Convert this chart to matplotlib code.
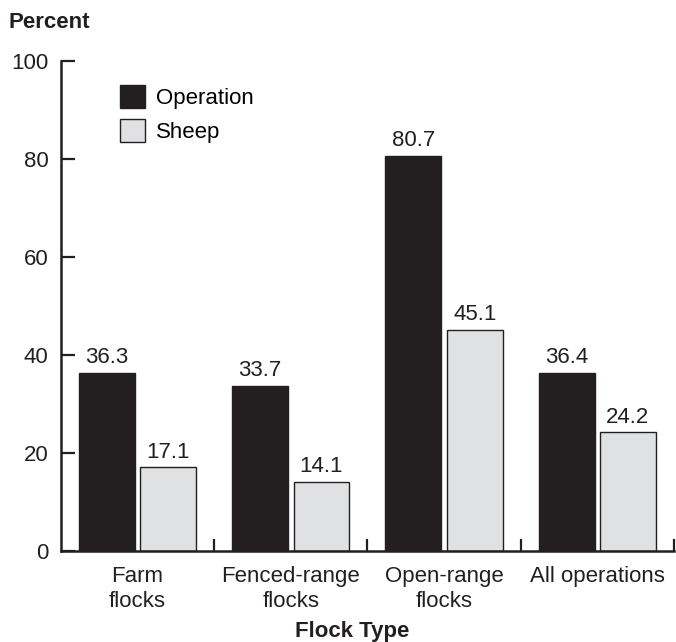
import matplotlib
matplotlib.use("Agg")
import matplotlib.pyplot as plt
import numpy as np

categories = ["Farm\nflocks", "Fenced-range\nflocks", "Open-range\nflocks", "All operations"]
operation = [36.3, 33.7, 80.7, 36.4]
sheep = [17.1, 14.1, 45.1, 24.2]
yticks = [0, 20, 40, 60, 80, 100]

plt.rcParams['font.family'] = ['Liberation Sans', 'DejaVu Sans']
FS = 16

fig = plt.figure(figsize=(6.76, 6.42), dpi=100)
ax = fig.add_axes([0.0902, 0.1417, 0.9068, 0.7633])

x = np.arange(len(categories))
w = 0.365
off = 0.2
dark = "#231f20"
light = "#e0e1e2"
ax.bar(x - off, operation, w, color=dark, edgecolor=dark, linewidth=1, label="Operation")
ax.bar(x + off, sheep, w, color=light, edgecolor=dark, linewidth=1, label="Sheep")

for xi, v in zip(x - off, operation):
    ax.annotate(f"{v:.1f}", (xi, v), xytext=(0, 7), textcoords="offset points",
                ha="center", va="baseline", fontsize=FS, color=dark)
for xi, v in zip(x + off, sheep):
    ax.annotate(f"{v:.1f}", (xi, v), xytext=(0, 7), textcoords="offset points",
                ha="center", va="baseline", fontsize=FS, color=dark)

ax.set_xlim(-0.5, 3.5)
ax.set_ylim(0, 100)
ax.set_yticks(yticks)
ax.set_yticklabels([str(t) for t in yticks], fontsize=FS, color=dark)
ax.tick_params(axis='y', direction='in', length=10, width=1.6, color=dark, pad=9)

ax.set_xticks(x)
ax.set_xticklabels(categories, fontsize=FS, color=dark, linespacing=1.25)
ax.tick_params(axis='x', which='major', length=0, pad=11)
ax.set_xticks([0.5, 1.5, 2.5, 3.5], minor=True)
ax.tick_params(axis='x', which='minor', direction='in', length=9, width=1.6, color=dark)

for s in ['top', 'right']:
    ax.spines[s].set_visible(False)
for s in ['left', 'bottom']:
    ax.spines[s].set_linewidth(1.8)
    ax.spines[s].set_color(dark)

fig.text(352 / 676, 1 - 632 / 642, "Flock Type", fontsize=FS, fontweight='bold', color=dark,
         ha='center', va='center')
fig.text(8 / 676, 1 - 22 / 642, "Percent", fontsize=FS, fontweight='bold', color=dark,
         ha='left', va='center')

ax.legend(loc='upper left', bbox_to_anchor=(0.096, 0.951), frameon=False, fontsize=FS,
          borderpad=0, borderaxespad=0,
          handlelength=1.12, handleheight=1.2, handletextpad=0.5, labelspacing=0.45)

fig.savefig("out.png", dpi=100)
